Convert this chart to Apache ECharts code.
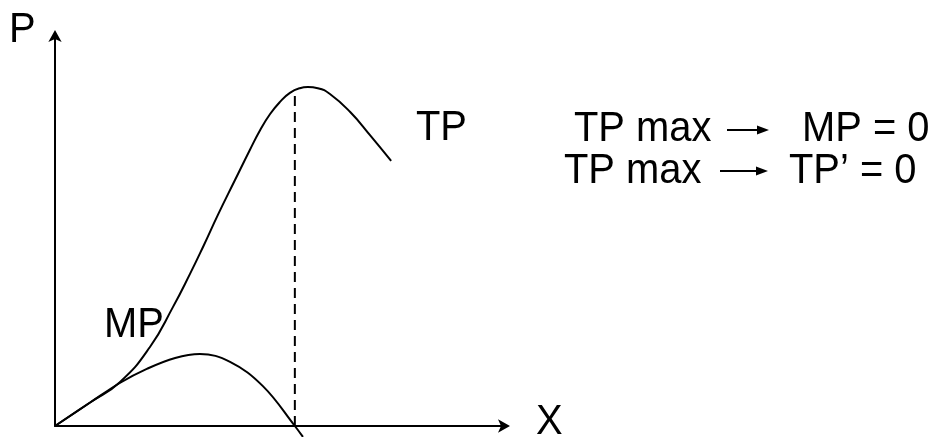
<!DOCTYPE html>
<html>
<head>
<meta charset="utf-8">
<style>
  html, body { margin: 0; padding: 0; background: #fff; }
  #chart { width: 941px; height: 437px; }
</style>
<script src="https://cdn.jsdelivr.net/npm/echarts@6/dist/echarts.min.js"></script>
</head>
<body>
<div id="chart"></div>
<script>
// Total product curve (TP)
const tpX = [0, 7.8, 14.4, 21.1, 26.2, 30.0, 33.1, 36.2, 40.0, 43.3, 45.6, 47.8, 50.0, 52.2, 54.4, 56.2, 58.4, 61.1, 65.6, 70.0, 74.7];
const tpY = [0, 6.0, 11.2, 20.2, 30.4, 38.9, 46.3, 54.0, 62.9, 70.6, 75.7, 79.8, 82.9, 85.2, 86.4, 86.7, 86.4, 84.9, 80.3, 74.4, 67.8];
// Marginal product curve (MP)
const mpX = [0, 7.8, 14.4, 20.4, 26.7, 32.2, 38.9, 46.2, 53.3, 55.1];
const mpY = [0, 6.0, 11.0, 14.6, 17.4, 18.4, 16.4, 10.2, 0, -2.8];
// Dashed guide at TP max
const maxX = [53.3, 53.3];
const maxY = [0, 85.9];
// Labels
const axisNames = ['P', 'X'];
const curveNames = ['TP', 'MP'];
const notes = [['TP max', 'MP = 0'], ['TP max', "TP\u2019 = 0"]];

const zip = (xs, ys) => xs.map((x, i) => [x, ys[i]]);
const FONT = "'Liberation Sans', Arial, sans-serif";
const txt = (text, x, y) => ({
  type: 'text', left: x, top: y, scaleX: 0.95,
  style: { text: text, font: '42px ' + FONT, fill: '#000' }
});
const arrow = (x1, x2, y) => ([
  { type: 'line', shape: { x1: x1, y1: y, x2: x2 - 10, y2: y }, style: { stroke: '#000', lineWidth: 2 } },
  { type: 'polygon', shape: { points: [[x2 - 12, y - 4.5], [x2, y], [x2 - 12, y + 4.5]] }, style: { fill: '#000' } }
]);

const chart = echarts.init(document.getElementById('chart'));
const axisCommon = {
  type: 'value', min: 0, max: 100,
  axisLine: { show: true, symbol: ['none', 'arrow'], symbolSize: [10, 12], symbolOffset: [0, 5],
    lineStyle: { color: '#000', width: 2 } },
  axisTick: { show: false }, axisLabel: { show: false }, splitLine: { show: false }
};
chart.setOption({
  animation: false,
  backgroundColor: '#fff',
  grid: { left: 55, right: 436, top: 35, bottom: 11 },
  xAxis: axisCommon,
  yAxis: axisCommon,
  series: [
    { name: curveNames[0], type: 'line', data: zip(tpX, tpY), smooth: 0.5, showSymbol: false, clip: false,
      lineStyle: { color: '#000', width: 2 } },
    { name: curveNames[1], type: 'line', data: zip(mpX, mpY), smooth: 0.4, showSymbol: false, clip: false,
      lineStyle: { color: '#000', width: 2 } },
    { name: 'max', type: 'line', data: zip(maxX, maxY), showSymbol: false, clip: false,
      lineStyle: { color: '#000', width: 2, type: [10, 6] } }
  ],
  graphic: [
    txt(axisNames[0], 9, 9),
    txt(axisNames[1], 536, 401),
    txt(curveNames[0], 416, 107),
    txt(curveNames[1], 104, 304),
    txt(notes[0][0], 574, 108),
    ...arrow(727, 769, 130),
    txt(notes[0][1], 802, 108),
    txt(notes[1][0], 564, 150),
    ...arrow(720, 768, 171),
    txt(notes[1][1], 789, 150)
  ]
});
</script>
</body>
</html>
